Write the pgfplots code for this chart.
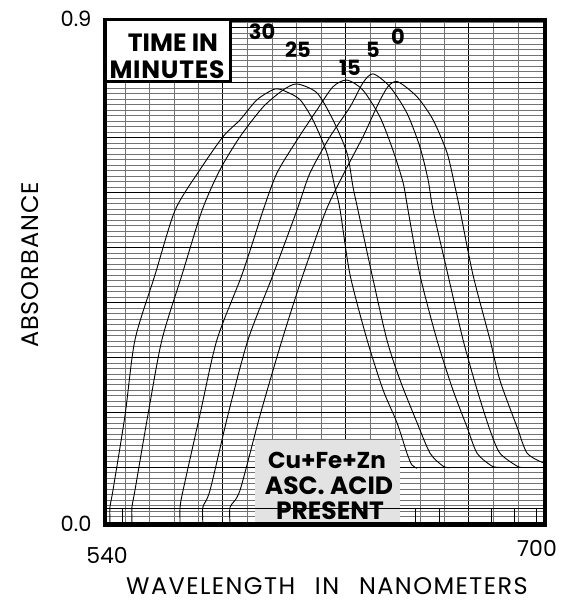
\documentclass[border=0pt]{standalone}
\usepackage{pgfplots}
\pgfplotsset{compat=1.18}
\usepackage{fontspec}
\setmainfont{Poppins}
\begin{document}
\begin{tikzpicture}
\path[use as bounding box] (-105pt,-82pt) rectangle (457pt,525pt);
\begin{axis}[
  width=440pt, height=505pt, scale only axis,
  xmin=540, xmax=700, ymin=0, ymax=0.9,
  axis line style={line width=3.5pt},
  xtick={582.9,627.6,672.3}, xticklabels={},
  minor xtick={547.2,556.1,565.1,574.0,591.8,600.8,609.7,618.7,636.6,645.5,654.5,663.4,681.3,690.2},
  ytick={0.005,0.103,0.201,0.299,0.397,0.495,0.593,0.691,0.789,0.887}, yticklabels={},
  minor ytick={0.0148,0.0246,...,0.9},
  major tick length=0pt, minor tick length=0pt,
  grid=both,
  major grid style={black, line width=1pt},
  minor grid style={black!55, line width=0.45pt},
  clip=false,
]
% grey patch behind the note
\fill[gray!22] (axis cs:594.5,0.006) rectangle (axis cs:647.3,0.152);
% bottom strip
\draw[black, line width=1.2pt] (axis cs:540,0.030) -- (axis cs:700,0.030);
\pgfplotsinvokeforeach{546.5,653,661.5,680.5,689,697}{\draw[black, line width=1pt] (axis cs:#1,0.0) -- (axis cs:#1,0.030);}

% 30 min
\addplot[black, line width=0.9pt, smooth, tension=0.45] coordinates {
(541.8,0.003) (541.8,0.032) (542.9,0.062) (547.3,0.196) (550.9,0.330) (558.2,0.446) (565.5,0.561) (574.5,0.633) (582.9,0.692) (589.1,0.722) (595.3,0.758) (601.8,0.777) (606,0.772) (610.9,0.758) (615.6,0.722) (620.7,0.663) (623.6,0.602) (625.5,0.561) (629.1,0.446) (635.3,0.330) (641.1,0.241) (646.2,0.182) (649.8,0.128) (651.6,0.107) (653.5,0.101)};
% 25 min
\addplot[black, line width=0.9pt, smooth, tension=0.45] coordinates {
(549.8,0.003) (549.8,0.032) (550.9,0.062) (555.6,0.196) (560.7,0.330) (568.0,0.446) (575.3,0.561) (581.8,0.633) (589.1,0.692) (597.5,0.745) (604.7,0.775) (609.8,0.786) (617.1,0.770) (622.9,0.722) (628.0,0.663) (630.2,0.602) (632.0,0.561) (637.1,0.446) (642.5,0.330) (647.3,0.258) (653.5,0.182) (658.2,0.128) (662.9,0.105) (665.5,0.102)};
% 15 min
\addplot[black, line width=0.9pt, smooth, tension=0.45] coordinates {
(567.3,0.003) (567.3,0.032) (568.4,0.062) (574.5,0.196) (580.7,0.330) (589.8,0.446) (597.5,0.561) (602.5,0.627) (609.8,0.686) (617.1,0.740) (622.9,0.781) (628.0,0.793) (633.8,0.775) (640.0,0.727) (644.7,0.668) (648.4,0.610) (650.2,0.561) (654.5,0.446) (660.7,0.330) (666.5,0.241) (671.6,0.175) (675.3,0.128) (680.7,0.105) (683.6,0.103)};
% 5 min
\addplot[black, line width=0.9pt, smooth, tension=0.45] coordinates {
(575.6,0.003) (575.6,0.032) (578.2,0.062) (584.7,0.196) (592.0,0.330) (601.1,0.446) (609.8,0.561) (614.5,0.627) (621.8,0.692) (629.1,0.745) (633.8,0.788) (637.5,0.804) (643.6,0.781) (649.8,0.734) (654.5,0.674) (657.5,0.615) (659.3,0.561) (664.7,0.446) (670.2,0.330) (675.3,0.241) (680.0,0.169) (683.6,0.128) (689.8,0.105) (691.6,0.103)};
% 0 min
\addplot[black, line width=0.9pt, smooth, tension=0.45] coordinates {
(585.5,0.003) (585.5,0.032) (589.1,0.062) (596.4,0.196) (604.4,0.330) (612.0,0.446) (620.4,0.561) (627.0,0.628) (633.8,0.692) (639.5,0.752) (643.0,0.782) (646.5,0.790) (653.5,0.763) (659.3,0.722) (664.4,0.663) (667.3,0.602) (669.1,0.561) (673.8,0.446) (680.0,0.330) (683.6,0.258) (689.8,0.175) (693.5,0.128) (699.3,0.111)};
\end{axis}
% legend box
\draw[black, line width=3pt, fill=white] (0pt,505pt) rectangle (125pt,443pt);
\node[font=\fontsize{25}{27}\selectfont\bfseries] at (68pt,482pt) {TIME IN};
\node[font=\fontsize{25}{27}\selectfont\bfseries\addfontfeatures{LetterSpace=3}] at (62pt,455pt) {MINUTES};
% curve labels
\node[font=\fontsize{21}{24}\selectfont\bfseries] at (157pt,493pt) {30};
\node[font=\fontsize{21}{24}\selectfont\bfseries] at (193pt,475pt) {25};
\node[font=\fontsize{21}{24}\selectfont\bfseries] at (245pt,457pt) {15};
\node[font=\fontsize{21}{24}\selectfont\bfseries] at (268pt,475pt) {5};
\node[font=\fontsize{21}{24}\selectfont\bfseries] at (293pt,488pt) {0};
% note
\node[font=\fontsize{23}{24}\selectfont\bfseries] at (222pt,65pt) {Cu+Fe+Zn};
\node[font=\fontsize{25}{26}\selectfont\bfseries] at (224pt,39pt) {ASC. ACID};
\node[font=\fontsize{25}{26}\selectfont\bfseries] at (225pt,14pt) {PRESENT};
% tick labels
\node[anchor=east, font=\fontsize{21}{24}\selectfont] at (-10pt,506pt) {0.9};
\node[anchor=east, font=\fontsize{21}{24}\selectfont] at (-10pt,1pt) {0.0};
\node[font=\fontsize{22}{24}\selectfont] at (2pt,-30pt) {540};
\node[font=\fontsize{22}{24}\selectfont] at (432pt,-23pt) {700};
% axis titles
\node[font=\fontsize{24}{26}\selectfont\addfontfeatures{LetterSpace=6}] at (222pt,-61pt) {WAVELENGTH\hspace{0.5em} IN\hspace{0.5em} NANOMETERS};
\node[rotate=90, font=\fontsize{24}{26}\selectfont\addfontfeatures{LetterSpace=4}] at (-75pt,260pt) {ABSORBANCE};
\end{tikzpicture}
\end{document}
